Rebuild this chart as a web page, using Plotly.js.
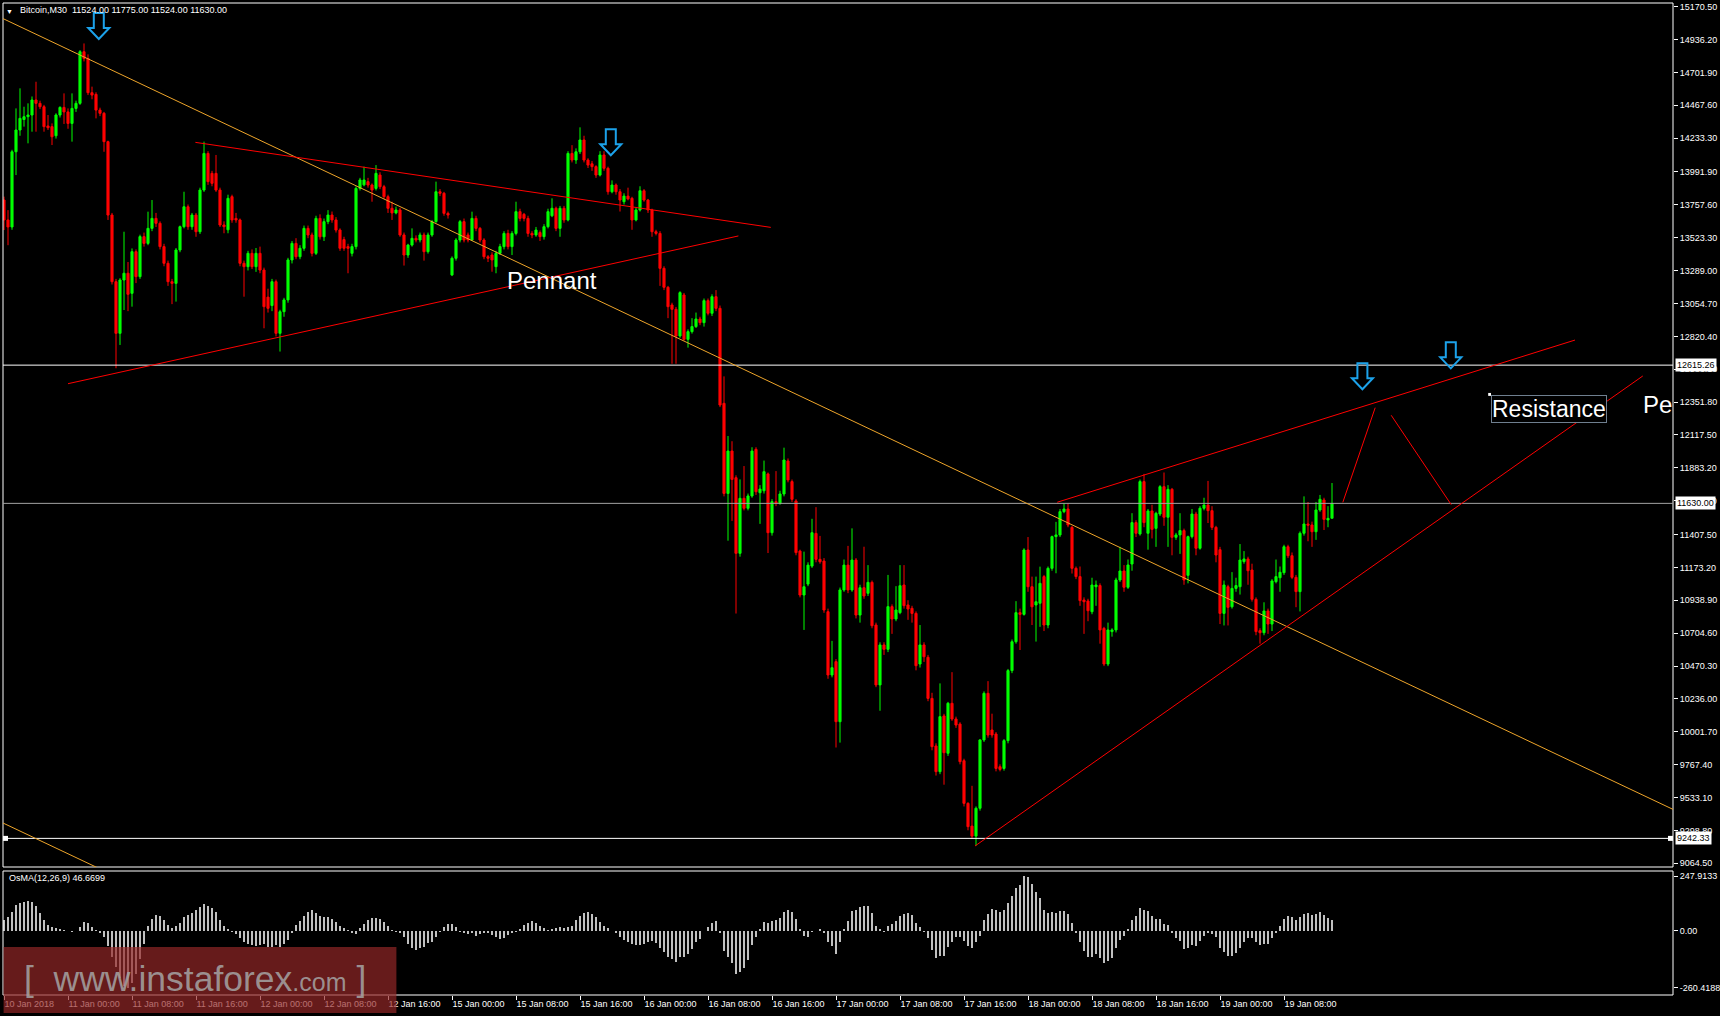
<!DOCTYPE html>
<html><head><meta charset="utf-8">
<script src="https://cdn.plot.ly/plotly-3.0.1.min.js"></script>
<style>html,body{margin:0;padding:0;background:#000;overflow:hidden}#chart{width:1720px;height:1016px}</style>
</head><body><div id="chart"></div>
<script>
// ---------- DATA ----------
const tickLabels = ['10 Jan 2018','11 Jan 00:00','11 Jan 08:00','11 Jan 16:00','12 Jan 00:00','12 Jan 08:00','12 Jan 16:00','15 Jan 00:00','15 Jan 08:00','15 Jan 16:00','16 Jan 00:00','16 Jan 08:00','16 Jan 16:00','17 Jan 00:00','17 Jan 08:00','17 Jan 16:00','18 Jan 00:00','18 Jan 08:00','18 Jan 16:00','19 Jan 00:00','19 Jan 08:00'];
const tickBars = [0,16,32,48,64,80,96,112,128,144,160,176,192,208,224,240,256,272,288,304,320];
const priceTicks = [15170.5,14936.2,14701.9,14467.6,14233.3,13991.9,13757.6,13523.3,13289.0,13054.7,12820.4,12586.1,12351.8,12117.5,11883.2,11648.9,11407.5,11173.2,10938.9,10704.6,10470.3,10236.0,10001.7,9767.4,9533.1,9298.8,9064.5];
const osmaTicks = [247.9133, 0, -260.4188];
const osmaTickText = ['247.9133','0.00','-260.4188'];

const openP = [13792,13650,13600,14136,14291,14366,14386,14398,14505,14481,14457,14320,14315,14250,14398,14452,14420,14338,14445,14481,
14849,14801,14557,14545,14433,14410,14208,13685,13210,12842,13222,13270,13127,13424,13246,13531,13483,13590,13661,13626,
13460,13341,13210,13198,13436,13602,13744,13602,13685,13566,13863,14124,13982,13982,13863,13614,13580,13816,13661,13650,
13341,13317,13412,13317,13412,13293,13100,13040,13210,12842,12996,13080,13365,13483,13388,13448,13590,13543,13412,13661,
13530,13638,13685,13650,13578,13510,13460,13412,13460,13875,13900,13923,13899,13875,13970,13887,13816,13733,13700,13721,
13543,13400,13471,13519,13507,13543,13424,13543,13638,13851,13840,13697,13258,13377,13507,13638,13543,13507,13661,13590,
13507,13388,13400,13317,13412,13460,13554,13460,13554,13709,13690,13661,13554,13543,13560,13531,13602,13680,13733,13590,
13733,13650,14124,14077,14136,14220,14077,14050,14030,13970,14113,14018,13851,13899,13851,13780,13820,13804,13650,13721,
13858,13792,13721,13566,13554,13305,13170,13044,13013,12823,13115,12799,12854,12890,12944,12918,13075,12985,13103,13020,
12343,11701,12003,11813,11274,11666,11595,11683,12015,11706,11720,11840,11421,11642,11630,11697,11932,11785,11647,11290,
10977,11055,11183,11416,11231,11219,10858,10407,10502,10074,11013,11190,11013,11226,10834,11029,10989,11067,10763,10336,
10621,10590,10894,10806,10851,11048,10906,10882,10846,10485,10621,10533,10240,9901,9718,10115,9849,10205,10093,10057,
9796,9492,9330,9259,9457,9944,10276,10015,9986,9753,9741,9939,10438,10644,10851,10839,11298,11036,10906,10918,
11108,10763,11167,11393,11405,11571,11590,11459,11167,11108,10941,10934,10858,11036,11044,10739,10485,10716,10728,11084,
11148,11032,11198,11493,11412,11785,11417,11576,11452,11554,11749,11531,11730,11388,11405,11436,11117,11393,11554,11310,
11595,11618,11578,11459,11300,10846,11036,10893,11024,11036,11215,11234,11155,10946,10723,10708,10863,10770,11072,11100,
11136,11321,11257,11103,11001,11417,11483,11476,11428,11583,11654,11512,11524];

const highP = [13816,13720,14150,14445,14588,14457,14481,14530,14635,14500,14470,14398,14338,14410,14460,14552,14445,14552,14500,14860,
14908,14830,14600,14560,14450,14420,14215,13700,13230,13235,13566,13350,13447,13440,13545,13560,13709,13792,13700,13640,
13480,13360,13230,13450,13610,13851,13760,13700,13700,13880,14208,14140,14000,14113,13880,13640,13830,13830,13700,13660,
13360,13430,13440,13450,13460,13310,13160,13230,13225,13010,13095,13380,13500,13520,13470,13610,13610,13560,13680,13690,
13660,13720,13710,13670,13590,13530,13480,13480,13890,13950,14030,13950,13910,14041,13990,13900,13830,13780,13745,13735,
13560,13480,13590,13540,13560,13560,13560,13650,13923,13870,13850,13710,13390,13520,13650,13660,13560,13709,13680,13600,
13520,13400,13420,13430,13480,13570,13580,13570,13780,13730,13700,13680,13570,13600,13575,13620,13730,13804,13745,13750,
13750,14140,14183,14160,14310,14250,14090,14070,14040,14140,14140,14030,13932,13910,13870,13840,13880,13815,13740,13890,
13870,13800,13730,13580,13570,13320,13180,13060,13030,13142,13130,12870,12950,12990,12960,13090,13090,13120,13150,13040,
12535,12110,12073,11830,11801,11896,11700,12030,12030,11760,11935,11850,11660,11860,11720,12027,11950,11800,11660,11300,
11286,11210,11520,11603,11398,11240,10880,10650,10520,11030,11230,11327,11452,11240,11050,11321,11190,11080,10780,10640,
10640,11120,10910,11040,11190,11190,10940,10900,10860,10763,10640,10550,10280,9920,10347,10130,10215,10427,10110,10070,
9810,9500,9617,9470,9950,10290,10363,10131,10000,9770,9950,10450,10660,10933,10880,11310,11390,11108,11108,11179,
11120,11180,11400,11498,11590,11630,11630,11470,11180,11180,10960,10950,11100,11080,11060,10750,10780,10740,11100,11320,
11190,11230,11560,11510,11800,11840,11590,11620,11570,11760,11850,11760,11740,11420,11560,11450,11400,11590,11570,11610,
11670,11790,11610,11470,11320,11080,11050,11140,11100,11340,11290,11250,11200,10960,10740,10925,10880,11090,11230,11180,
11335,11335,11280,11120,11430,11680,11640,11500,11640,11690,11670,11610,11775];

const lowP = [13578,13470,13580,13970,14250,14315,14196,14279,14279,14440,14279,14291,14184,14230,14380,14334,14300,14208,14420,14470,
14780,14540,14510,14374,14390,14136,13650,13190,12593,12759,13008,13000,13032,13200,13230,13460,13470,13570,13600,13440,
13320,13180,13050,13068,13420,13590,13580,13580,13530,13550,13850,13900,13890,13850,13600,13555,13555,13630,13630,13320,
13103,13290,13300,13280,13270,12878,12990,13000,12820,12712,12960,13060,13340,13370,13370,13430,13520,13390,13400,13510,
13500,13620,13630,13560,13430,13430,13270,13390,13440,13860,13890,13880,13780,13860,13870,13800,13700,13650,13690,13530,
13325,13380,13460,13490,13490,13360,13410,13530,13630,13820,13680,13660,13250,13360,13490,13490,13490,13500,13570,13490,
13370,13350,13281,13270,13400,13440,13440,13400,13540,13640,13640,13530,13520,13530,13500,13510,13590,13670,13570,13530,
13630,13640,14060,14050,14120,14060,14020,14000,13950,13960,14000,13830,13840,13830,13710,13760,13790,13580,13640,13710,
13780,13700,13530,13540,13180,13150,12950,12625,12625,12810,12790,12740,12840,12880,12900,12890,12970,12965,13000,12316,
11680,11364,11505,10845,11250,11580,11580,11670,11690,11484,11700,11276,11400,11610,11620,11680,11780,11640,11260,10960,
10728,11040,11170,11210,11200,10850,10380,10390,9890,9925,11000,10990,11000,10810,10780,10950,10970,10740,10320,10152,
10550,10570,10700,10790,10840,10880,10800,10780,10440,10460,10500,10220,9870,9690,9700,9625,9830,10080,10030,9770,
9470,9300,9240,9190,9440,9930,9960,9960,9720,9720,9725,9920,10420,10630,10585,10830,11000,10763,10645,10750,
10720,10740,11150,11132,11390,11560,11460,11130,11090,10900,10700,10790,10840,10900,10630,10470,10470,10680,10710,11070,
11000,11020,11150,11390,11400,11460,11300,11380,11320,11540,11470,11320,11260,11370,11270,11050,11060,11380,11260,11300,
11580,11490,11440,11210,10770,10760,10760,10880,11000,10980,11200,11050,10930,10690,10630,10690,10700,10720,11060,11000,
11120,11240,11090,10890,10860,11400,11360,11320,11370,11570,11440,11460,11524];

const closeP = [13650,13600,14136,14291,14374,14386,14398,14505,14481,14457,14315,14307,14243,14398,14452,14420,14338,14445,14481,14849,
14801,14557,14540,14433,14410,14208,13685,13210,12842,13222,13270,13120,13424,13246,13531,13483,13590,13661,13626,13460,
13341,13210,13198,13436,13602,13744,13602,13685,13566,13863,14124,13923,13911,13863,13614,13602,13804,13650,13650,13341,
13317,13412,13317,13412,13293,13032,13020,13210,12842,12996,13080,13365,13483,13388,13448,13590,13543,13412,13661,13530,
13638,13685,13650,13578,13448,13448,13448,13460,13875,13935,13935,13899,13863,13982,13887,13816,13733,13700,13721,13543,
13400,13471,13519,13507,13543,13424,13543,13638,13851,13840,13697,13685,13377,13507,13638,13507,13507,13661,13590,13507,
13388,13377,13365,13412,13460,13554,13460,13554,13709,13661,13661,13554,13543,13578,13531,13602,13709,13733,13590,13733,
13650,14124,14077,14136,14220,14077,14041,14030,13970,14113,14018,13851,13899,13851,13792,13820,13800,13650,13721,13858,
13792,13721,13566,13554,13305,13170,13032,13013,12823,13132,12799,12854,12890,12944,12918,13075,12985,13103,13020,12331,
11701,12003,11801,11274,11666,11595,11683,12003,11713,11732,11856,11421,11642,11630,11697,11939,11797,11659,11279,10977,
11036,11190,11421,11231,11214,10870,10407,10459,10074,11013,11190,11013,11226,10834,11029,10970,11067,10758,10336,10621,
10590,10894,10806,10870,11043,10901,10877,10846,10473,10621,10537,10240,9896,9718,10110,9853,10205,10093,10050,9789,
9492,9326,9259,9457,9944,10276,9979,9979,9741,9734,9939,10438,10644,10851,10839,11298,11036,10893,10929,11060,
10763,11167,11393,11405,11571,11590,11476,11167,11108,10937,10929,10865,11048,11048,10728,10485,10728,10728,11084,11148,
11032,11191,11493,11417,11785,11493,11576,11445,11559,11749,11531,11730,11388,11405,11436,11084,11393,11554,11310,11595,
11618,11578,11459,11262,10846,11048,10889,11024,11044,11226,11234,11150,10946,10716,10708,10863,10770,11077,11108,11139,
11321,11257,11103,11001,11417,11483,11474,11428,11583,11659,11516,11523,11630];

const osma = [48,64,86,116,127,132,135,132,112,79,48,26,15,11,6,3,-2,-5,0,18,
41,33,18,3,-12,-30,-70,-120,-165,-215,-250,-260.4,-240,-195,-130,-60,21,51,71,67,
48,26,11,21,36,64,71,82,94,106,121,112,101,86,48,21,6,-5,-15,-35,
-50,-61,-65,-70,-65,-61,-76,-76,-65,-73,-61,-42,-12,26,45,67,86,94,79,67,
64,61,51,41,21,11,3,-9,-17,11,30,48,56,56,51,41,21,3,-5,-9,
-27,-61,-80,-88,-80,-73,-57,-50,-27,-5,15,30,30,15,-5,-12,-17,-12,-24,-15,
-12,-12,-20,-27,-38,-35,-20,-9,-5,6,26,36,44,33,21,11,3,9,11,15,
11,15,21,48,68,79,86,74,64,41,21,11,0,-9,-27,-42,-54,-61,-65,-65,
-61,-54,-45,-55,-80,-95,-121,-130,-141,-121,-121,-106,-83,-54,-38,-3,15,36,44,-9,
-92,-121,-145,-197,-186,-168,-133,-65,-27,6,38,33,44,48,56,83,94,83,51,6,
-23,-27,-5,-2,6,-9,-50,-68,-106,-50,6,44,89,94,109,112,112,82,21,6,
-5,21,30,45,67,76,82,71,36,15,-5,-35,-88,-123,-115,-115,-76,-50,-27,-27,
-45,-70,-80,-50,-24,48,76,97,94,86,94,127,157,192,207,247.9,242,212,174,147,
94,82,83,82,89,89,76,36,-9,-54,-91,-118,-118,-107,-123,-145,-136,-123,-77,-42,
-23,8,48,67,101,94,89,67,53,53,30,26,-9,-32,-45,-83,-77,-65,-68,-45,
-23,-9,-17,-27,-77,-95,-115,-115,-103,-77,-50,-32,-32,-50,-65,-61,-61,-32,-9,21,
51,67,61,48,61,76,79,71,76,83,71,56,46.67];

// drawn objects (bar index / price)
const lineBars0  = [-0.25, -0.25, 47.85, 16, 242.75, 263.3, 334.7, 346.8];
const linePrice0 = [15085, 9352, 14203, 12483, 9188, 11638, 11637, 12258];
const lineBars1  = [417.25, 40, 191.7, 183.6, 409.7, 392.75, 342.8, 361.8];
const linePrice1 = [9449, 8809, 13597, 13536, 12538, 12794, 12312, 11621];
const levelPrices = [12615.26, 11630.00, 9242.33];
const levelLabels = ['12615.26', '11630.00', '9242.33'];
const arrowBars = [23.7, 151.7, 339.6, 361.7];
const arrowPrices = [15032, 14204, 12536, 12685];
const textLabels = ['Pennant', 'Resistance', 'Pe'];
const textBars = [136.9, 386.25, 409.25];
const textPrices = [13222, 12306, 12338];

// ---------- RENDER ----------
const FONT = 'Liberation Sans, Arial, sans-serif';
const W = 1720, H = 1016, ML = 3, MR = 47, MT = 3, MB = 21;
const plotW = W - ML - MR, plotH = H - MT - MB;
const mainTopPx = 3, mainBotPx = 867, oscTopPx = 871;
const xRange = [-0.25, 417.25];
const yRange = [9038.4, 15196.2];
const y2Range = [-292.4, 270.6];
const mainDomain = [(H - MB - mainBotPx) / plotH, 1];
const oscDomain = [0, (H - MB - oscTopPx) / plotH];
const barsPerPx = (xRange[1] - xRange[0]) / plotW;
const pricePerPx = (yRange[1] - yRange[0]) / (mainBotPx - mainTopPx);
const barIndex = openP.map((_, i) => i);

const shapes = [];
// panel frames
shapes.push({type:'rect', xref:'paper', yref:'y domain', x0:0, x1:1, y0:0, y1:1, line:{color:'#ffffff', width:1}, layer:'above'});
shapes.push({type:'rect', xref:'paper', yref:'y2 domain', x0:0, x1:1, y0:0, y1:1, line:{color:'#ffffff', width:1}, layer:'above'});
// horizontal levels
const levelColors = ['#ffffff', '#a3a3a3', '#ffffff'];
levelPrices.forEach((p, k) => shapes.push({type:'line', xref:'paper', yref:'y', x0:0, x1:1, y0:p, y1:p, line:{color:levelColors[k], width:1}, layer:'above'}));
// end markers on 9242.33 level
const mk = 2.5 * pricePerPx;
shapes.push({type:'rect', xref:'x', yref:'y', x0:xRange[0], x1:xRange[0] + 5 * barsPerPx, y0:levelPrices[2] - mk, y1:levelPrices[2] + mk, fillcolor:'#ffffff', line:{width:0}, layer:'above'});
shapes.push({type:'rect', xref:'x', yref:'y', x0:xRange[1] - 5 * barsPerPx, x1:xRange[1], y0:levelPrices[2] - mk, y1:levelPrices[2] + mk, fillcolor:'#ffffff', line:{width:0}, layer:'above'});
// trend lines
lineBars0.forEach((b, k) => shapes.push({type:'line', xref:'x', yref:'y', x0:b, y0:linePrice0[k], x1:lineBars1[k], y1:linePrice1[k],
  line:{color: k < 2 ? '#eea52a' : '#ff0000', width:1}, layer:'above'}));
// hollow down arrows
const arrowPts = [[-5,-13],[5,-13],[5,2],[10.5,2],[0,13],[-10.5,2],[-5,2]];
arrowBars.forEach((b, k) => {
  const d = arrowPts.map((pt, j) => (j ? 'L' : 'M') + (b + pt[0] * barsPerPx).toFixed(3) + ',' + (arrowPrices[k] - pt[1] * pricePerPx).toFixed(2)).join(' ') + ' Z';
  shapes.push({type:'path', xref:'x', yref:'y', path:d, line:{color:'#1ca2ea', width:2}, fillcolor:'rgba(0,0,0,0)', layer:'above'});
});
// small white dot at Resistance box corner
shapes.push({type:'rect', xref:'x', yref:'y', x0:textBars[1] - 15.2, x1:textBars[1] - 14.5, y0:12396, y1:12417, fillcolor:'#ffffff', line:{width:0}, layer:'above'});
// watermark panel
shapes.push({type:'rect', xref:'paper', yref:'paper', x0:(3.6 - ML) / plotW, x1:(396.4 - ML) / plotW,
  y0:(H - MB - 1013) / plotH, y1:(H - MB - 947) / plotH, fillcolor:'rgba(150,40,40,0.68)', line:{width:0}, layer:'above'});

const annotations = [];
annotations.push({xref:'paper', yref:'paper', x:0, y:1, xanchor:'center', yanchor:'middle', xshift:6.5, yshift:-8, text:'▼', showarrow:false, font:{family:FONT, size:7, color:'#ffffff'}});
annotations.push({xref:'paper', yref:'paper', x:0, y:1, xanchor:'left', yanchor:'middle', xshift:15, yshift:-7,
  text:'Bitcoin,M30\u00a0\u00a011524.00 11775.00 11524.00 11630.00', showarrow:false, font:{family:FONT, size:9, color:'#ffffff'}});
annotations.push({xref:'paper', yref:'y2 domain', x:0, y:1, xanchor:'left', yanchor:'middle', xshift:3.6, yshift:-6.6,
  text:'OsMA(12,26,9) 46.6699', showarrow:false, font:{family:FONT, size:9, color:'#ffffff'}});
levelPrices.forEach((p, k) => annotations.push({xref:'paper', yref:'y', x:1, y:p, xanchor:'left', yanchor:'middle', xshift:2,
  text:levelLabels[k], showarrow:false, bgcolor:'#ffffff', borderpad:1, font:{family:FONT, size:9, color:'#000000'}}));
textLabels.forEach((t, k) => {
  const a = {xref:'x', yref:'y', x:textBars[k], y:textPrices[k], text:t, showarrow:false, yanchor:'middle',
    xanchor: k === 2 ? 'left' : 'center', font:{family:FONT, size: k === 1 ? 23 : 24, color:'#ffffff'}};
  if (k === 1) { a.bordercolor = '#6f7f8f'; a.borderwidth = 1; a.borderpad = 0; a.bgcolor = '#000000'; }
  annotations.push(a);
});
annotations.push({xref:'paper', yref:'paper', x:(22 - ML) / plotW, y:(H - MB - 979) / plotH, xanchor:'left', yanchor:'middle',
  text:'[\u00a0\u00a0www.instaforex<span style="font-size:25px">.com</span>\u00a0]', showarrow:false,
  font:{family:FONT, size:35.5, color:'rgba(165,165,165,0.85)'}});

const axisFont = {family:FONT, size:9, color:'#ffffff'};
const layout = {
  width:W, height:H, paper_bgcolor:'#000000', plot_bgcolor:'#000000',
  margin:{l:ML, r:MR, t:MT, b:MB, pad:0}, showlegend:false, hovermode:false, dragmode:false,
  boxgap:0.25, bargap:0,
  xaxis:{type:'linear', anchor:'y2', domain:[0,1], range:xRange, tickmode:'array', tickvals:tickBars, ticktext:tickLabels,
    ticks:'outside', ticklen:4, tickwidth:1, tickcolor:'#ffffff', ticklabelposition:'outside right', tickfont:axisFont,
    showgrid:false, zeroline:false, showline:false, rangeslider:{visible:false}, fixedrange:true},
  yaxis:{type:'linear', domain:mainDomain, anchor:'x', side:'right', range:yRange, tickmode:'array', tickvals:priceTicks,
    ticktext:priceTicks.map(v => v.toFixed(2)), ticks:'outside', ticklen:4, tickcolor:'#ffffff', tickfont:axisFont,
    showgrid:false, zeroline:false, showline:false, fixedrange:true},
  yaxis2:{type:'linear', domain:oscDomain, anchor:'x', side:'right', range:y2Range, tickmode:'array', tickvals:osmaTicks,
    ticktext:osmaTickText, ticks:'outside', ticklen:4, tickcolor:'#ffffff', tickfont:axisFont,
    showgrid:false, zeroline:false, showline:false, fixedrange:true},
  shapes:shapes, annotations:annotations
};

const traces = [
  {type:'candlestick', x:barIndex, open:openP, high:highP, low:lowP, close:closeP, xaxis:'x', yaxis:'y',
   increasing:{line:{color:'#00ff00', width:1}, fillcolor:'#00ff00'},
   decreasing:{line:{color:'#ff0000', width:1}, fillcolor:'#ff0000'},
   whiskerwidth:0, hoverinfo:'skip', showlegend:false},
  {type:'bar', x:barIndex, y:osma, xaxis:'x', yaxis:'y2', width:0.7, marker:{color:'#c0c0c0', line:{width:0}}, hoverinfo:'skip', showlegend:false}
];

Plotly.newPlot('chart', traces, layout, {staticPlot:true, displayModeBar:false});
</script>
</body></html>
